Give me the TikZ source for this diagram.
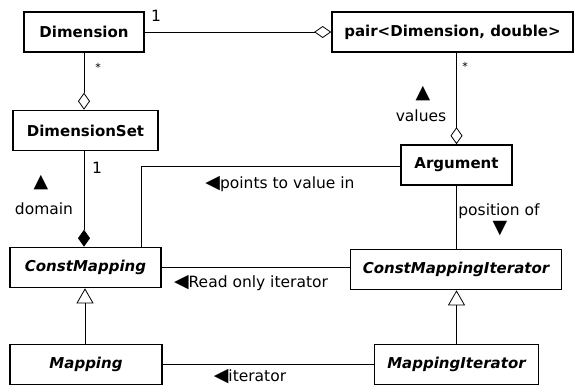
\documentclass[tikz,border=0pt]{standalone}
\usepackage{fontspec}
\setmainfont{DejaVu Sans}
\usetikzlibrary{arrows.meta}

\begin{document}
\begin{tikzpicture}[x=1pt,y=-1pt,
        class/.style={draw,line width=1.6pt,minimum height=40pt,inner sep=0pt,
            font=\bfseries\fontsize{15}{17}\selectfont},
        abstract/.style={class,font=\bfseries\itshape\fontsize{15}{17}\selectfont},
        link/.style={line width=0.8pt},
        agg/.style={link,-{Diamond[open,length=17pt,width=12pt,line width=0.8pt]}},
        comp/.style={link,-{Diamond[length=17pt,width=12pt]}},
        inherit/.style={link,-{Triangle[open,length=15pt,width=17pt,line width=0.8pt]}},
        lbl/.style={inner sep=0pt,font=\fontsize{15.5}{17}\selectfont},
        tri/.style={inner sep=0pt,font=\fontsize{19}{20}\selectfont},
        star/.style={inner sep=0pt,font=\fontsize{11}{12}\selectfont}]
        \useasboundingbox (0,0) rectangle (575,386);

        % Classes
        \node[class,minimum width=120pt] (dim) at (84,32) {Dimension};
        \node[class,minimum width=241pt] (pair) at (452.5,32) {pair<Dimension, double>};
        \node[class,minimum width=145pt] (dimset) at (85.5,130.5) {DimensionSet};
        \node[class,minimum width=111pt] (arg) at (456.5,165) {Argument};
        \node[abstract,minimum width=151pt] (cmap) at (85.5,267.5) {ConstMapping};
        \node[abstract,minimum width=211pt] (cmapit) at (456,269.5) {ConstMappingIterator};
        \node[abstract,minimum width=152pt] (map) at (86,364.5) {Mapping};
        \node[abstract,minimum width=164pt] (mapit) at (456.5,364.5) {MappingIterator};
        \coordinate (bend) at (141,166);

        % Aggregations
        \draw[agg] (dim) -- (pair);
        \draw[agg] (dim.south) -- (dim.south |- dimset.north);
        \draw[agg] (pair.south -| arg.north) -- (arg.north);
        \draw[comp] (dimset.south -| dim.south) -- (dim.south |- cmap.north);

        % Associations
        \draw[link] (arg.west |- bend) -- (bend) -- (bend |- cmap.north);
        \draw[link] (cmap.east |- 0,267) -- (cmapit.west |- 0,267);
        \draw[link] (arg.south) -- (arg.south |- cmapit.north);
        \draw[link] (map.east) -- (mapit.west);

        % Inheritance
        \draw[inherit] (map.north -| 85,0) -- (cmap.south -| 85,0);
        \draw[inherit] (mapit.north -| arg.south) -- (cmapit.south -| arg.south);

        % Labels
        \node[lbl] (dimone) at (156,16) {1};
        \node[star] (dimstar) at (98,67) {*};
        \node[star] (pairstar) at (465,66) {*};
        \node[tri] (valtri) at (423,94) {▲};
        \node[lbl] (values) at (421,116) {values};
        \node[lbl] (setone) at (97,168) {1};
        \node[tri] (domtri) at (41,183) {▲};
        \node[lbl] (domain) at (44,209) {domain};
        \node[lbl] (points) at (280,184) {\raisebox{-0.5pt}{\fontsize{19}{20}\selectfont◀}points to value in};
        \node[lbl] (posof) at (499,211) {position of};
        \node[tri] (postri) at (500,229) {▼};
        \node[lbl] (readonly) at (251,283) {\raisebox{-0.5pt}{\fontsize{19}{20}\selectfont◀}Read only iterator};
        \node[lbl] (iter) at (250,377) {\raisebox{-0.5pt}{\fontsize{19}{20}\selectfont◀}iterator};
\end{tikzpicture}
\end{document}
